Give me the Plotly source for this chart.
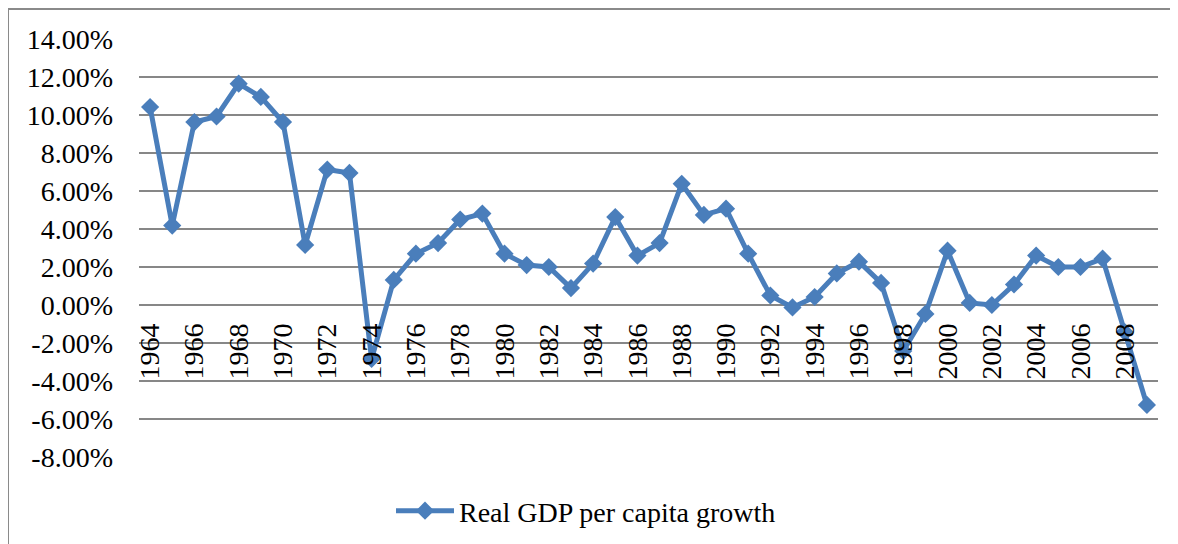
import plotly.graph_objects as go

# ---- data ----
years = list(range(1964, 2010))
growth_pct = [10.42, 4.18, 9.63, 9.92, 11.65, 10.95, 9.63, 3.16, 7.13, 6.95,
              -2.84, 1.32, 2.70, 3.26, 4.50, 4.81, 2.70, 2.10, 2.00, 0.89,
              2.18, 4.63, 2.60, 3.26, 6.38, 4.74, 5.07, 2.70, 0.50, -0.13,
              0.42, 1.66, 2.28, 1.16, -2.42, -0.47, 2.86, 0.11, 0.00, 1.08,
              2.60, 2.00, 2.00, 2.44, -1.42, -5.26]
series_name = "Real GDP per capita growth"
y_tick_vals = [-8, -6, -4, -2, 0, 2, 4, 6, 8, 10, 12, 14]
y_tick_labels = ["-8.00%", "-6.00%", "-4.00%", "-2.00%", "0.00%", "2.00%",
                 "4.00%", "6.00%", "8.00%", "10.00%", "12.00%", "14.00%"]
x_tick_vals = list(range(1964, 2009, 2))
x_tick_labels = [str(v) for v in x_tick_vals]

# ---- layout constants (reference pixels; page body adds an 8px offset) ----
OFF = 8
W, H = 1178 - OFF, 544 - OFF
PL, PR, PT, PB = 139 - OFF, 1158 - OFF, 39 - OFF, 457 - OFF
YMIN, YMAX = -8, 14
FONT = "Liberation Serif"
FS = 28
BLUE = "#4A7EBB"
GRID = "#878787"

def px_x(p):
    """reference pixel x -> paper fraction"""
    return (p - OFF - PL) / (PR - PL)

def px_y(p):
    """reference pixel y -> paper fraction"""
    return (PB - (p - OFF)) / (PB - PT)

fig = go.Figure()
fig.add_trace(go.Scatter(
    x=years, y=growth_pct, name=series_name, mode="lines+markers",
    line=dict(color=BLUE, width=5),
    marker=dict(symbol="diamond", size=14, color=BLUE),
))

zero_pos = (0 - YMIN) / (YMAX - YMIN)

fig.update_layout(
    width=W, height=H,
    margin=dict(l=PL, r=W - PR, t=PT, b=H - PB, autoexpand=False),
    paper_bgcolor="white", plot_bgcolor="white",
    font=dict(family=FONT, size=FS, color="black"),
    showlegend=True,
    legend=dict(orientation="h", x=px_x(391), xanchor="left",
                y=px_y(511), yanchor="middle", itemwidth=58,
                font=dict(family=FONT, size=FS, color="black")),
    xaxis=dict(range=[years[0] - 0.5, years[-1] + 0.5], tickmode="array",
               tickvals=x_tick_vals, ticktext=x_tick_labels, tickangle=-90,
               showgrid=False, zeroline=False, showline=False,
               anchor="free", position=zero_pos, ticks="",
               ticklabelstandoff=12,
               tickfont=dict(family=FONT, size=FS, color="black")),
    yaxis=dict(range=[YMIN, YMAX], tickmode="array", tickvals=y_tick_vals,
               ticktext=y_tick_labels, showgrid=True, gridcolor=GRID,
               gridwidth=2, zeroline=False, showline=False, ticks="",
               ticklabelstandoff=25,
               tickfont=dict(family=FONT, size=FS, color="black")),
    shapes=[
        dict(type="line", xref="paper", yref="paper", x0=px_x(8), x1=px_x(8),
             y0=px_y(9), y1=px_y(560), line=dict(color="#8a8a8a", width=2)),
        dict(type="line", xref="paper", yref="paper", x0=px_x(8), x1=px_x(1200),
             y0=px_y(9), y1=px_y(9), line=dict(color="#8a8a8a", width=2)),
    ],
)

fig.write_html("out.html")
